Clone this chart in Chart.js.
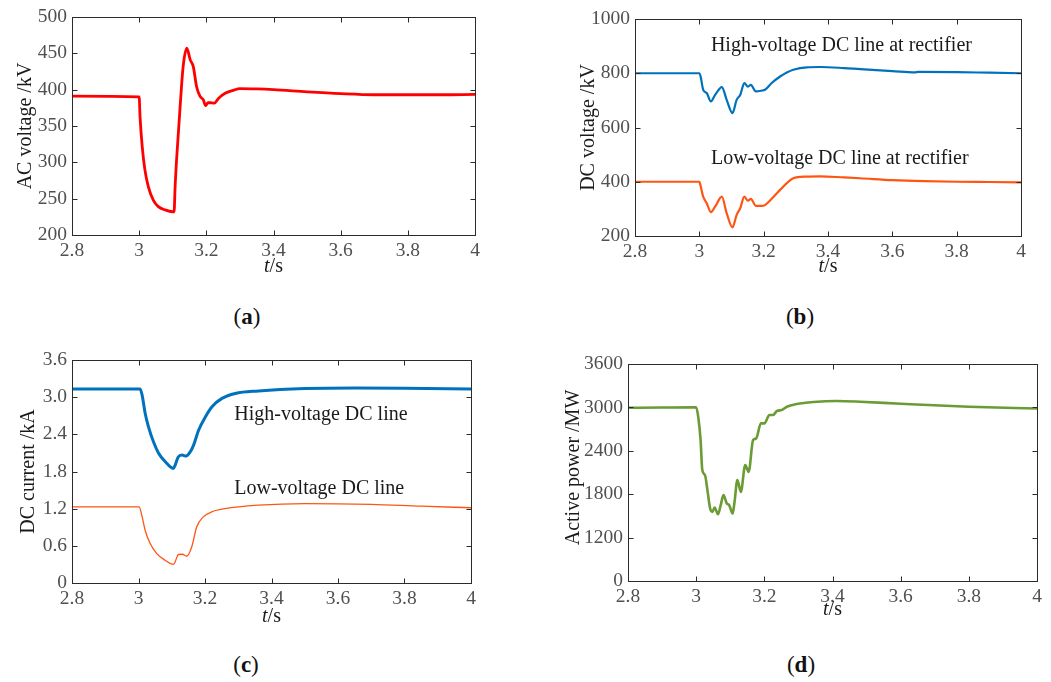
<!DOCTYPE html>
<html>
<head>
<meta charset="utf-8">
<script src="https://cdn.jsdelivr.net/npm/chart.js@4"></script>
<style>
  body { margin: 0; background: #fff; }
  #wrap { position: relative; width: 1051px; height: 682px; }
  canvas { position: absolute; }
  .lbl { position: absolute; font: 23px "Liberation Serif", serif; color: #111; transform: translate(-50%, -50%); }
</style>
</head>
<body>
<div id="wrap">
  <canvas id="ca" width="520" height="290" style="left:0;top:0"></canvas>
  <canvas id="cb" width="531" height="290" style="left:520px;top:0"></canvas>
  <canvas id="cc" width="520" height="300" style="left:0;top:340px"></canvas>
  <canvas id="cd" width="531" height="300" style="left:520px;top:340px"></canvas>
  <div class="lbl" style="left:247px;top:317px">(<b>a</b>)</div>
  <div class="lbl" style="left:800px;top:317px">(<b>b</b>)</div>
  <div class="lbl" style="left:246px;top:665px">(<b>c</b>)</div>
  <div class="lbl" style="left:801px;top:665px">(<b>d</b>)</div>
</div>
<script>
const xTicks = [2.8, 3.0, 3.2, 3.4, 3.6, 3.8, 4.0];
const xTickLabels = ["2.8", "3", "3.2", "3.4", "3.6", "3.8", "4"];

// (a) AC voltage
const tA = [2.8, 3.0, 3.0026, 3.009, 3.017, 3.027, 3.042, 3.057, 3.077, 3.1, 3.104, 3.107, 3.112, 3.122, 3.131, 3.142, 3.152, 3.161, 3.171, 3.181, 3.191, 3.198, 3.205, 3.211, 3.224, 3.236, 3.256, 3.28, 3.3, 3.35, 3.4, 3.5, 3.6, 3.7, 3.8, 3.9, 4.0];
const acVoltage = [391, 390, 363, 322, 290, 267, 248, 239, 234.5, 232, 232, 266, 308, 377, 432, 457, 441, 432, 404, 391, 386, 378, 382, 382, 381.5, 388, 395, 399, 401.5, 401, 400, 397, 394.5, 393, 393, 393, 393.5];
const yTicksA = [200, 250, 300, 350, 400, 450, 500];
const yLabelsA = ["200", "250", "300", "350", "400", "450", "500"];

// (b) DC voltage
const tBHigh = [2.8, 3.0, 3.004, 3.012, 3.023, 3.036, 3.049, 3.07, 3.085, 3.103, 3.116, 3.127, 3.14, 3.151, 3.16, 3.176, 3.194, 3.204, 3.225, 3.251, 3.272, 3.292, 3.334, 3.375, 3.45, 3.5, 3.6, 3.67, 3.68, 3.8, 3.9, 4.0];
const dcVoltHigh = [800, 800, 788, 739, 727, 696, 720, 749, 702, 653, 702, 720, 764, 751, 757, 733, 736, 739, 764, 788, 803, 813, 822, 823, 819, 815, 808, 803, 805, 804, 802, 800];
const tBLow = [2.8, 3.0, 3.002, 3.012, 3.023, 3.036, 3.049, 3.07, 3.085, 3.103, 3.116, 3.127, 3.14, 3.151, 3.16, 3.176, 3.194, 3.204, 3.225, 3.251, 3.272, 3.292, 3.334, 3.375, 3.45, 3.5, 3.6, 3.7, 3.8, 3.9, 4.0];
const dcVoltLow = [400, 400, 394, 345, 321, 288, 308, 345, 284, 232, 278, 302, 345, 330, 337, 311, 311, 314, 337, 370, 395, 413, 419, 420, 416, 413, 406, 402, 400, 399, 398];
const yTicksB = [200, 400, 600, 800, 1000];
const yLabelsB = ["200", "400", "600", "800", "1000"];

// (c) DC current
const tCHigh = [2.8, 3.005, 3.011, 3.02, 3.03, 3.045, 3.06, 3.08, 3.105, 3.11, 3.119, 3.131, 3.143, 3.156, 3.166, 3.181, 3.201, 3.221, 3.251, 3.291, 3.361, 3.5, 3.65, 3.8, 4.0];
const dcCurHigh = [3.13, 3.13, 3.03, 2.74, 2.52, 2.28, 2.10, 1.96, 1.85, 1.90, 2.03, 2.065, 2.05, 2.12, 2.23, 2.47, 2.68, 2.845, 2.98, 3.06, 3.10, 3.14, 3.15, 3.145, 3.13];
const tCLow = [2.8, 3.002, 3.011, 3.02, 3.035, 3.055, 3.08, 3.105, 3.11, 3.12, 3.132, 3.145, 3.16, 3.175, 3.195, 3.22, 3.26, 3.36, 3.5, 3.7, 3.85, 4.0];
const dcCurLow = [1.23, 1.23, 1.067, 0.852, 0.637, 0.475, 0.367, 0.30, 0.34, 0.46, 0.464, 0.432, 0.58, 0.905, 1.067, 1.148, 1.20, 1.256, 1.283, 1.27, 1.24, 1.215];
const yTicksC = [0, 0.6, 1.2, 1.8, 2.4, 3.0, 3.6];
const yLabelsC = ["0", "0.6", "1.2", "1.8", "2.4", "3.0", "3.6"];

// (d) active power (bottom tick of the original axis is labelled 0)
const tD = [2.8, 2.9, 3.0, 3.006, 3.013, 3.018, 3.026, 3.033, 3.041, 3.048, 3.054, 3.064, 3.072, 3.08, 3.09, 3.097, 3.107, 3.112, 3.121, 3.131, 3.144, 3.154, 3.167, 3.176, 3.19, 3.2, 3.215, 3.225, 3.238, 3.251, 3.266, 3.295, 3.344, 3.413, 3.481, 3.6, 3.8, 4.0];
const activePower = [2995, 2998, 3000, 2870, 2548, 2133, 2063, 1856, 1602, 1555, 1616, 1523, 1648, 1787, 1672, 1648, 1533, 1672, 1994, 1832, 2202, 2109, 2548, 2571, 2779, 2779, 2894, 2894, 2954, 2963, 3009, 3046, 3074, 3088, 3078, 3050, 3009, 2985];
const yTicksD = [600, 1200, 1800, 2400, 3000, 3600];
const yLabelsD = ["0", "1200", "1800", "2400", "3000", "3600"];

const FONT = '"Liberation Serif", "Times New Roman", serif';

function pts(ts, vs) {
  return ts.map((t, i) => ({ x: t, y: vs[i] }));
}

// box, inward ticks, axis titles and in-plot notes
const frame = {
  id: "frame",
  afterDraw(chart, args, o) {
    const { ctx, chartArea: a, scales: { x, y } } = chart;
    const L = Math.round(a.left) + 0.5, R = Math.round(a.right) + 0.5;
    const T = Math.round(a.top) + 0.5, B = Math.round(a.bottom) + 0.5;
    ctx.save();
    ctx.strokeStyle = "#2b2b2b";
    ctx.lineWidth = 1;
    ctx.strokeRect(L, T, R - L, B - T);
    ctx.beginPath();
    x.ticks.forEach((tk) => {
      const px = Math.round(x.getPixelForValue(tk.value)) + 0.5;
      ctx.moveTo(px, B); ctx.lineTo(px, B - 5);
      ctx.moveTo(px, T); ctx.lineTo(px, T + 5);
    });
    y.ticks.forEach((tk) => {
      const py = Math.round(y.getPixelForValue(tk.value)) + 0.5;
      ctx.moveTo(L, py); ctx.lineTo(L + 5, py);
      ctx.moveTo(R, py); ctx.lineTo(R - 5, py);
    });
    ctx.stroke();

    ctx.fillStyle = "#1a1a1a";
    ctx.font = "20px " + FONT;
    ctx.textBaseline = "middle";
    (o.notes || []).forEach((n) => {
      ctx.textAlign = "left";
      ctx.fillText(n.text, x.getPixelForValue(n.t), y.getPixelForValue(n.v));
    });

    // y title
    ctx.save();
    ctx.translate(a.left - o.yTitleOff, (a.top + a.bottom) / 2 + (o.yTitleShift || 0));
    ctx.rotate(-Math.PI / 2);
    ctx.textAlign = "center";
    ctx.fillText(o.yTitle, 0, 0);
    ctx.restore();

    // x title: italic t + /s
    const cx = (a.left + a.right) / 2, cy = a.bottom + o.xTitleOff;
    ctx.font = "italic 20px " + FONT;
    const w1 = ctx.measureText("t").width;
    ctx.font = "20px " + FONT;
    const w2 = ctx.measureText("/s").width;
    ctx.textAlign = "left";
    ctx.font = "italic 20px " + FONT;
    ctx.fillText("t", cx - (w1 + w2) / 2, cy);
    ctx.font = "20px " + FONT;
    ctx.fillText("/s", cx - (w1 + w2) / 2 + w1, cy);
    ctx.restore();
  }
};

function makeChart(id, datasets, yTicks, yLabels, box, frameOpts) {
  return new Chart(document.getElementById(id), {
    type: "line",
    data: { datasets },
    plugins: [frame],
    options: {
      responsive: false,
      animation: false,
      devicePixelRatio: 1,
      layout: { padding: { left: 0, top: box.top, right: box.right, bottom: 0 } },
      elements: { point: { radius: 0 }, line: { cubicInterpolationMode: "monotone", borderCapStyle: "round", borderJoinStyle: "round" } },
      plugins: { legend: { display: false }, tooltip: { enabled: false }, frame: frameOpts },
      scales: {
        x: {
          type: "linear",
          min: 2.8,
          max: 4,
          grid: { display: false, drawTicks: false },
          border: { display: false },
          afterBuildTicks: (s) => { s.ticks = xTicks.map((v) => ({ value: v })); },
          afterFit: (s) => { s.height = box.xh; s.paddingLeft = 0; s.paddingRight = 0; },
          ticks: {
            autoSkip: false,
            maxRotation: 0,
            padding: 4,
            color: "#505050",
            font: { family: FONT, size: 19.5 },
            callback: (v, i) => xTickLabels[i]
          }
        },
        y: {
          min: yTicks[0],
          max: yTicks[yTicks.length - 1],
          grid: { display: false, drawTicks: false },
          border: { display: false },
          afterBuildTicks: (s) => { s.ticks = yTicks.map((v) => ({ value: v })); },
          afterFit: (s) => { s.width = box.yw; s.paddingTop = 0; s.paddingBottom = 0; },
          ticks: {
            padding: 5,
            color: "#505050",
            font: { family: FONT, size: 19.5 },
            callback: (v, i) => yLabels[i]
          }
        }
      }
    }
  });
}

const BLUE = "#0072BD", ORANGE = "#FF5512", RED = "#FF0000", GREEN = "#6B9B35";

makeChart("ca",
  [{ data: pts(tA, acVoltage), borderColor: RED, borderWidth: 2.8 }],
  yTicksA, yLabelsA, { top: 17, right: 45, yw: 72, xh: 55 },
  { yTitle: "AC voltage /kV", yTitleOff: 46, xTitleOff: 32 });

makeChart("cb",
  [{ data: pts(tBHigh, dcVoltHigh), borderColor: BLUE, borderWidth: 2.2 },
   { data: pts(tBLow, dcVoltLow), borderColor: ORANGE, borderWidth: 2.2 }],
  yTicksB, yLabelsB, { top: 19, right: 30, yw: 115, xh: 54 },
  { yTitle: "DC voltage /kV", yTitleOff: 46, xTitleOff: 31,
    notes: [{ t: 3.036, v: 901, text: "High-voltage DC line at rectifier" },
            { t: 3.036, v: 484, text: "Low-voltage DC line at rectifier" }] });

makeChart("cc",
  [{ data: pts(tCHigh, dcCurHigh), borderColor: BLUE, borderWidth: 3 },
   { data: pts(tCLow, dcCurLow), borderColor: ORANGE, borderWidth: 1.3 }],
  yTicksC, yLabelsC, { top: 20, right: 49, yw: 72, xh: 57 },
  { yTitle: "DC current /kA", yTitleOff: 43, xTitleOff: 34,
    notes: [{ t: 3.288, v: 2.71, text: "High-voltage DC line" },
            { t: 3.288, v: 1.515, text: "Low-voltage DC line" }] });

makeChart("cd",
  [{ data: pts(tD, activePower), borderColor: GREEN, borderWidth: 2.6 }],
  yTicksD, yLabelsD, { top: 24, right: 14, yw: 108, xh: 59 },
  { yTitle: "Active power /MW", yTitleOff: 54, yTitleShift: -5, xTitleOff: 29 });
</script>
</body>
</html>
